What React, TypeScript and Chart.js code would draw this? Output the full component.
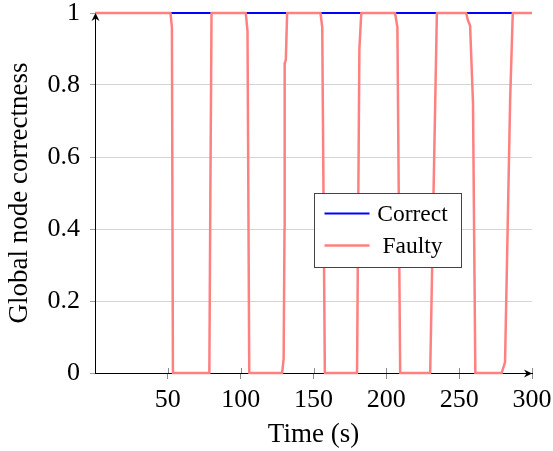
import React, { useEffect, useRef } from 'react';
import { Chart, registerables } from 'chart.js';

Chart.register(...registerables);

// ---- data ----
const seriesLabels = ['Correct', 'Faulty'];
const correctTime = [0, 300];
const correctValue = [1, 1];
const faultyTime = [
  0, 51.8, 52.8, 53.5,
  78.5, 79.2, 80.0,
  103.5, 104.7, 105.9,
  128.5, 129.5, 130.1, 130.2, 131.0, 131.9,
  154.8, 156.0, 157.8,
  179.9, 181.5, 182.8,
  206.0, 207.6, 209.5,
  230.1, 234.7,
  254.8, 256.0, 257.5, 259.5, 261.1,
  279.2, 281.5, 285.0, 286.8,
  300,
];
const faultyValue = [
  1, 1, 0.96, 0,
  0, 0.5, 1,
  1, 0.95, 0,
  0, 0.04, 0.4, 0.86, 0.87, 1,
  1, 0.96, 0,
  0, 0.9, 1,
  1, 0.96, 0,
  0, 1,
  1, 0.98, 0.965, 0.75, 0,
  0, 0.03, 0.76, 1,
  1,
];
const xTicks = [50, 100, 150, 200, 250, 300];
const xTickLabels = ['50', '100', '150', '200', '250', '300'];
const yTicks = [0, 0.2, 0.4, 0.6, 0.8, 1];
const yTickLabels = ['0', '0.2', '0.4', '0.6', '0.8', '1'];
const xTitle = 'Time (s)';
const yTitle = 'Global node correctness';

const FONT = "'Liberation Serif', 'Times New Roman', serif";
const BLUE = '#0000ff';
const PINK = '#ff8080';

const decorPlugin = {
  id: 'decor',
  afterDraw(chart: any) {
    const { ctx, chartArea: a } = chart;
    const xs = chart.scales.x;
    ctx.save();
    // inner tick marks on x axis
    ctx.strokeStyle = '#8c8c8c';
    ctx.lineWidth = 1;
    xs.ticks.forEach((t: any) => {
      const px = Math.round(xs.getPixelForValue(t.value)) + 0.5;
      ctx.beginPath();
      ctx.moveTo(px, a.bottom - 5);
      ctx.lineTo(px, a.bottom);
      ctx.stroke();
    });
    // arrowheads
    ctx.fillStyle = '#000';
    const arrow = (tx: number, ty: number, dx: number, dy: number) => {
      const L = 8, W = 4, B = 2.5;
      const nx = -dy, ny = dx;
      ctx.beginPath();
      ctx.moveTo(tx, ty);
      ctx.lineTo(tx - dx * L + nx * W, ty - dy * L + ny * W);
      ctx.lineTo(tx - dx * (L - B), ty - dy * (L - B));
      ctx.lineTo(tx - dx * L - nx * W, ty - dy * L - ny * W);
      ctx.closePath();
      ctx.fill();
    };
    arrow(a.right, a.bottom + 0.5, 1, 0);
    arrow(a.left + 0.5, a.top, 0, -1);

    // legend box
    const ds = chart.data.datasets;
    const bx = a.left + 219.5;
    const by = a.top + 180.5;
    const bw = 147;
    const bh = 74;
    ctx.fillStyle = '#ffffff';
    ctx.fillRect(bx, by, bw, bh);
    ctx.strokeStyle = '#444444';
    ctx.lineWidth = 1;
    ctx.strokeRect(bx, by, bw, bh);
    ctx.font = `23.5px ${FONT}`;
    ctx.textAlign = 'center';
    ctx.textBaseline = 'middle';
    ds.forEach((d: any, i: number) => {
      const ry = by + 20 + i * 32;
      ctx.strokeStyle = d.borderColor;
      ctx.lineWidth = d.borderWidth;
      ctx.beginPath();
      ctx.moveTo(bx + 10, ry);
      ctx.lineTo(bx + 55, ry);
      ctx.stroke();
      ctx.fillStyle = '#000';
      ctx.fillText(d.label, bx + 98, ry + 1);
    });
    ctx.restore();
  },
};

export default function App() {
  const ref = useRef<HTMLCanvasElement | null>(null);
  useEffect(() => {
    if (!ref.current) return;
    const chart = new Chart(ref.current, {
      type: 'line',
      data: {
        datasets: [
          {
            label: seriesLabels[0],
            data: correctTime.map((t, i) => ({ x: t, y: correctValue[i] })),
            borderColor: BLUE,
            backgroundColor: BLUE,
            borderWidth: 2,
            pointRadius: 0,
            tension: 0,
            clip: false as any,
            order: 1,
          },
          {
            label: seriesLabels[1],
            data: faultyTime.map((t, i) => ({ x: t, y: faultyValue[i] })),
            borderColor: PINK,
            backgroundColor: PINK,
            borderWidth: 2.5,
            borderJoinStyle: 'round',
            pointRadius: 0,
            tension: 0,
            clip: false as any,
            order: 0,
          },
        ],
      },
      options: {
        animation: false,
        responsive: false,
        maintainAspectRatio: false,
        layout: { padding: { top: 13, right: 21, left: 0, bottom: 0 } },
        plugins: {
          legend: { display: false },
          tooltip: { enabled: false },
        },
        scales: {
          x: {
            type: 'linear',
            min: 0,
            max: 300,
            afterBuildTicks: (s: any) => {
              s.ticks = xTicks.map((v) => ({ value: v }));
            },
            afterFit: (s: any) => {
              s.height = 78;
              s.paddingLeft = 0;
              s.paddingRight = 0;
            },
            border: { display: true, color: '#000', width: 1 },
            grid: {
              display: true,
              drawOnChartArea: false,
              drawTicks: true,
              tickLength: 6,
              tickColor: '#8c8c8c',
            },
            ticks: {
              color: '#000',
              font: { family: FONT, size: 26 },
              padding: 6,
              maxRotation: 0,
              autoSkip: false,
              callback: (v: any) => {
                const i = xTicks.indexOf(Number(v));
                return i >= 0 ? xTickLabels[i] : '';
              },
            },
            title: {
              display: true,
              text: xTitle,
              color: '#000',
              font: { family: FONT, size: 27 },
              padding: { top: 0, bottom: 0 },
            },
          },
          y: {
            type: 'linear',
            min: 0,
            max: 1,
            afterBuildTicks: (s: any) => {
              s.ticks = yTicks.map((v) => ({ value: v }));
            },
            afterFit: (s: any) => {
              s.width = 95;
              s.paddingTop = 0;
              s.paddingBottom = 0;
            },
            border: { display: true, color: '#000', width: 1 },
            grid: {
              color: '#d4d4d4',
              tickColor: '#a0a0a0',
              tickLength: 5,
            },
            ticks: {
              color: '#000',
              font: { family: FONT, size: 26 },
              padding: 10,
              autoSkip: false,
              callback: (v: any) => {
                const n = Number(v);
                const i = yTicks.findIndex((t) => Math.abs(t - n) < 1e-9);
                return i >= 0 ? yTickLabels[i] : '';
              },
            },
            title: {
              display: true,
              text: yTitle,
              color: '#000',
              font: { family: FONT, size: 27 },
              padding: { top: 4, bottom: 0 },
            },
          },
        },
      } as any,
      plugins: [decorPlugin],
    });
    return () => chart.destroy();
  }, []);
  return (
    <div style={{ position: 'fixed', left: 0, top: 0, width: 553, height: 451, background: '#fff' }}>
      <canvas ref={ref} width={553} height={451} style={{ width: 553, height: 451, display: 'block' }} />
    </div>
  );
}
